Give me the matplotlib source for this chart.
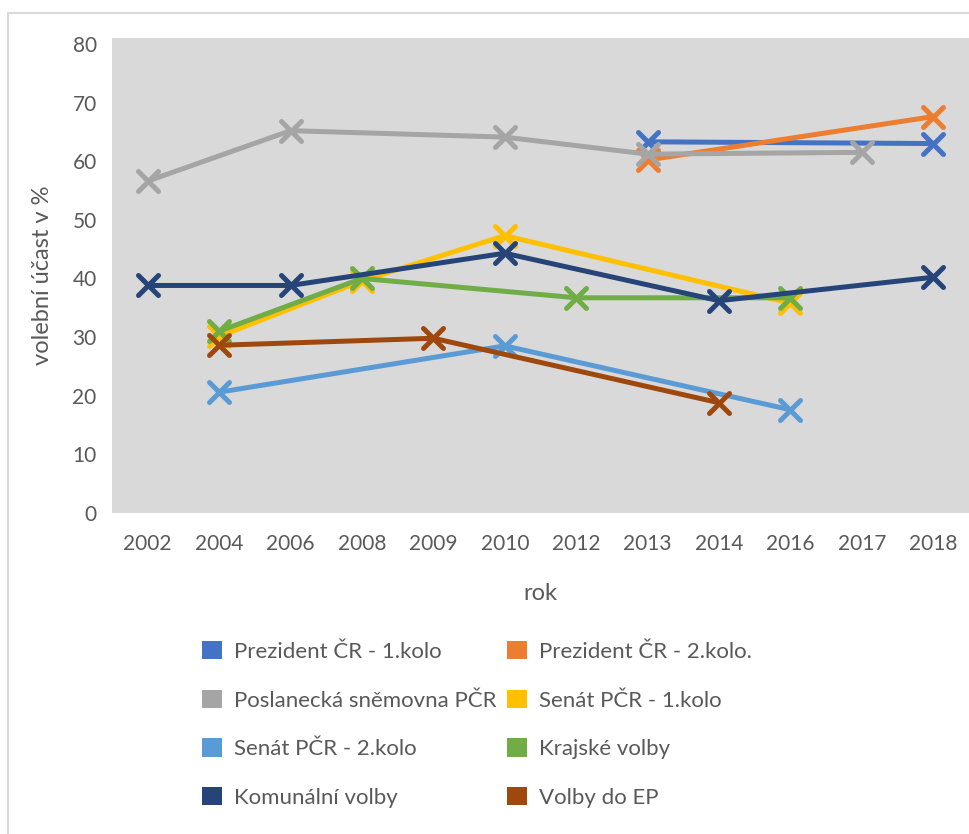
import matplotlib
matplotlib.use("Agg")
import matplotlib.pyplot as plt
from matplotlib.markers import MarkerStyle
from matplotlib.patches import Patch, Rectangle
import numpy as np

plt.rcParams['font.family'] = ['Lato', 'DejaVu Sans']

# data (volební účast v %)
roky = ['2002', '2004', '2006', '2008', '2009', '2010', '2012', '2013', '2014', '2016', '2017', '2018']

prezident_1 = [None, None, None, None, None, None, None, 63.3, None, None, None, 63.0]
prezident_2 = [None, None, None, None, None, None, None, 60.2, None, None, None, 67.6]
poslanecka = [56.6, None, 65.2, None, None, 64.1, None, 61.2, None, None, 61.5, None]
senat_1 = [None, 30.1, None, 39.6, None, 47.3, None, None, None, 35.8, None, None]
senat_2 = [None, 20.6, None, None, None, 28.5, None, None, None, 17.6, None, None]
krajske = [None, 31.0, None, 40.0, None, None, 36.7, None, None, 36.7, None, None]
komunalni = [38.8, None, 38.8, None, None, 44.3, None, None, 36.2, None, None, 40.2]
volby_ep = [None, 28.6, None, None, 29.8, None, None, None, 18.8, None, None, None]

nazvy = ['Prezident ČR - 1.kolo', 'Prezident ČR - 2.kolo.', 'Poslanecká sněmovna PČR',
         'Senát PČR - 1.kolo', 'Senát PČR - 2.kolo', 'Krajské volby',
         'Komunální volby', 'Volby do EP']
serie = [prezident_1, prezident_2, poslanecka, senat_1, senat_2, krajske, komunalni, volby_ep]
barvy = ['#4472C4', '#ED7D31', '#A5A5A5', '#FFC000', '#5B9BD5', '#70AD47', '#264478', '#9E480E']

text_col = '#595959'

fig = plt.figure(figsize=(9.70, 8.34), dpi=100)

# thin chart border (top + left)
fig.patches.append(Rectangle((8.5 / 970, -0.1), 1.2, 1 - 12.5 / 834 + 0.1, transform=fig.transFigure,
                             fill=False, edgecolor='#d9d9d9', linewidth=1.5))

ax = fig.add_axes([112 / 970, 1 - 513 / 834, (969 - 112) / 970, (513 - 38) / 834])
ax.set_facecolor('#d9d9d9')

marker = MarkerStyle('x', capstyle='round')
for nazev, data, barva in zip(nazvy, serie, barvy):
    xs = [i for i, v in enumerate(data) if v is not None]
    ys = [v for v in data if v is not None]
    ax.plot(xs, ys, color=barva, linewidth=3.6, solid_capstyle='round', solid_joinstyle='round',
            marker=marker, markersize=14, markeredgewidth=3.6, label=nazev)

ax.set_xlim(-0.5, len(roky) - 0.5)
ax.set_ylim(0, 81)
ax.set_xticks(range(len(roky)))
ax.set_xticklabels(roky)
ax.set_yticks(np.arange(0, 81, 10))

for s in ax.spines.values():
    s.set_visible(False)
ax.tick_params(axis='both', length=0, labelsize=15, colors=text_col)
ax.tick_params(axis='y', pad=11)
ax.tick_params(axis='x', pad=15)

ax.set_xlabel('rok', fontsize=17, color=text_col, labelpad=21)
ax.set_ylabel('volební účast v %', fontsize=17, color=text_col, labelpad=14)

# legend is filled row by row in the reference -> reorder for matplotlib (column by column)
poradi = [0, 2, 4, 6, 1, 3, 5, 7]
handles = [Patch(facecolor=barvy[i], edgecolor='none') for i in poradi]
popisky = [nazvy[i] for i in poradi]
fig.legend(handles, popisky, loc='upper left', bbox_to_anchor=(202 / 970, 1 - 641 / 834),
           ncol=2, frameon=False, fontsize=16, labelcolor=text_col, borderpad=0, borderaxespad=0,
           handlelength=0.9, handleheight=0.9, handletextpad=0.55,
           columnspacing=0.45, labelspacing=1.25)

fig.savefig('out.png', dpi=100, facecolor='white')
